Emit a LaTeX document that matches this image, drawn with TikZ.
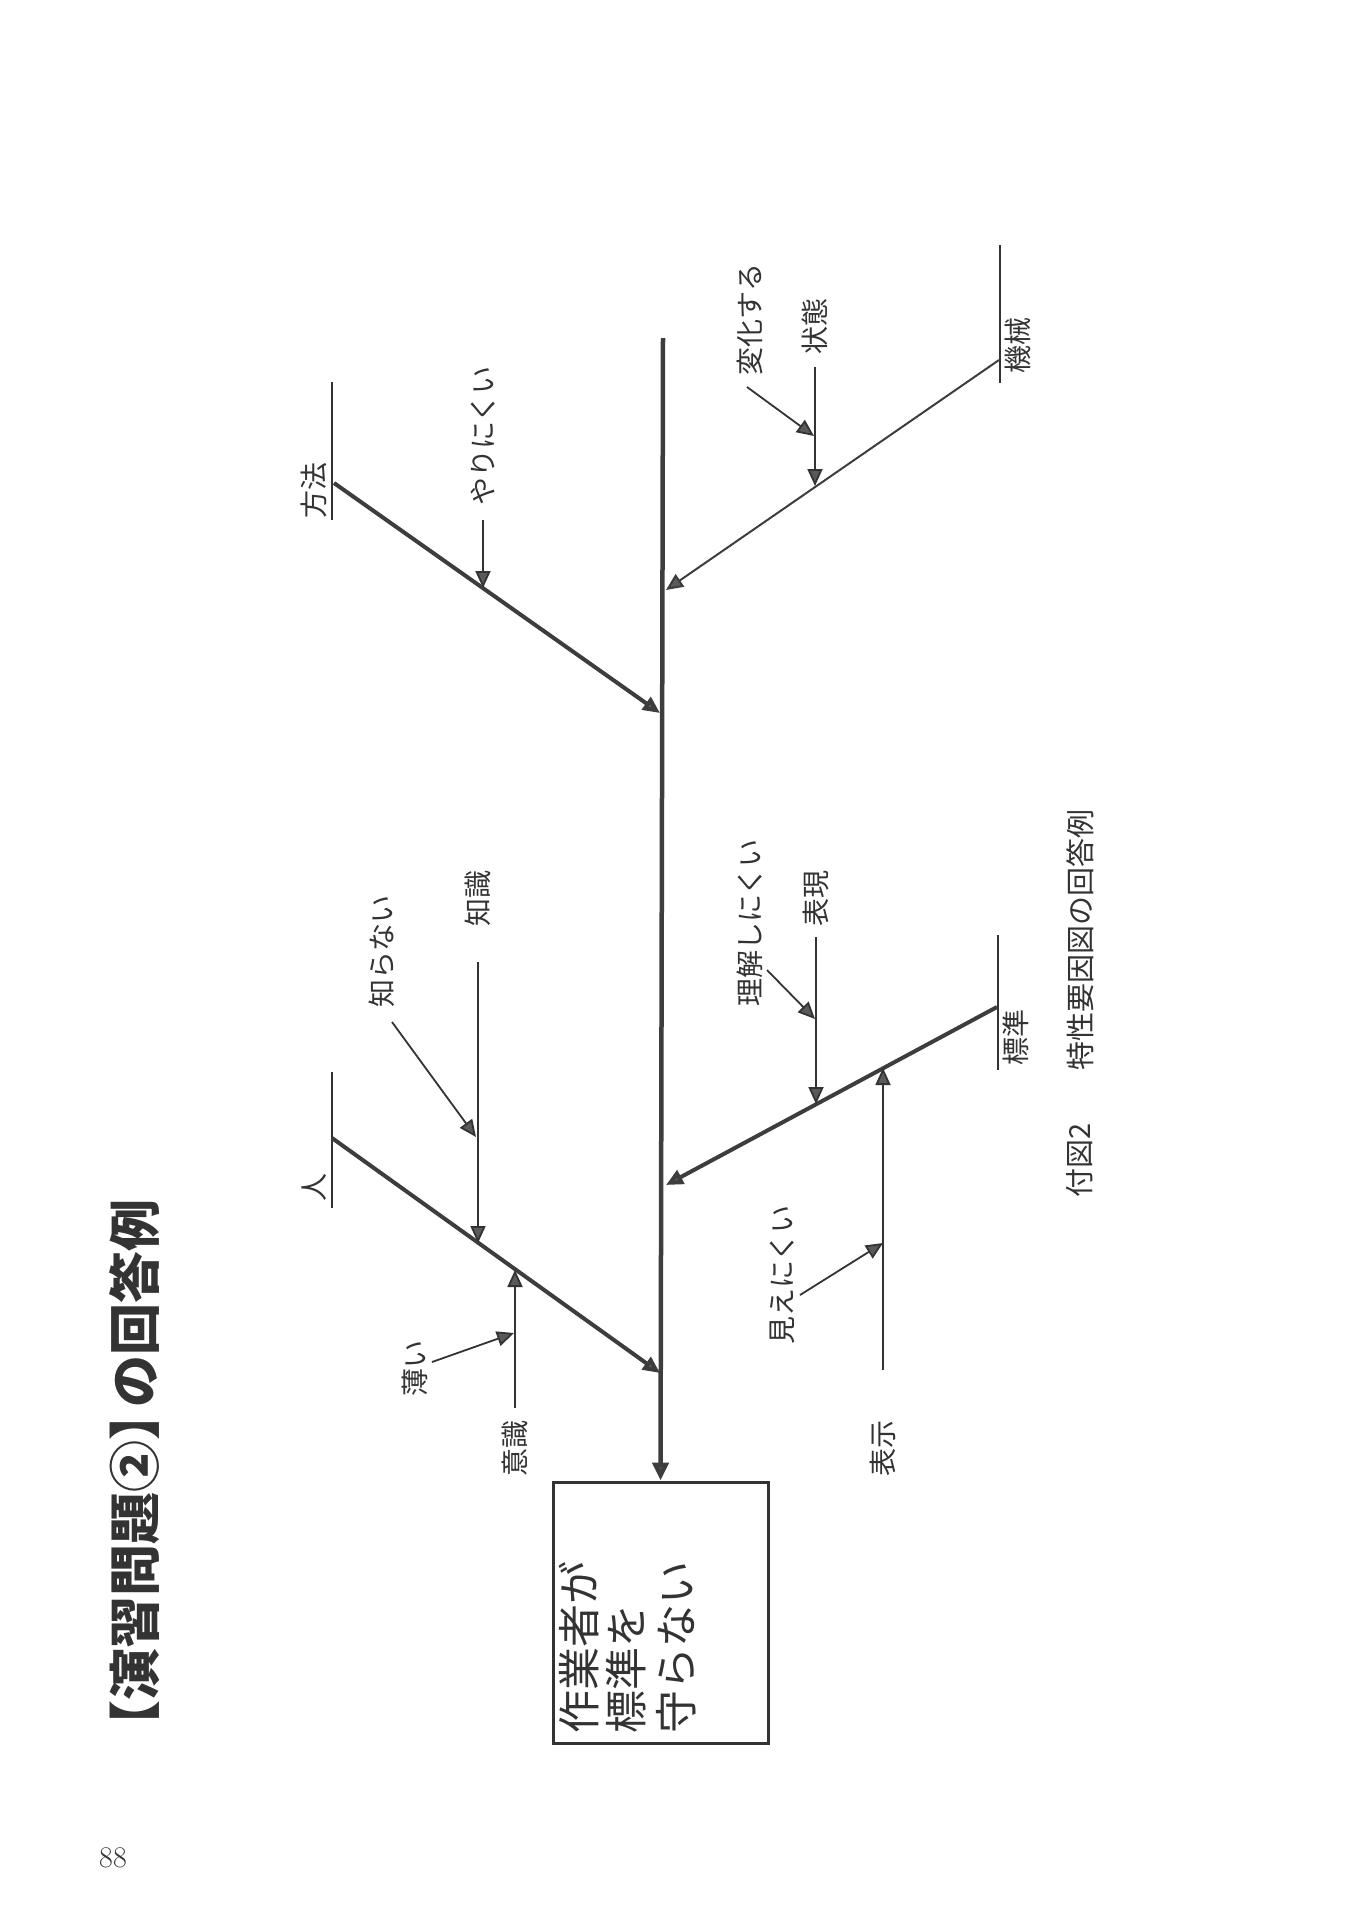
\documentclass[tikz,border=0pt]{standalone}
\usepackage{fontspec}
\newfontfamily\jp{Noto Sans CJK JP}
\usetikzlibrary{arrows.meta}
\definecolor{ink}{HTML}{333333}
\definecolor{bone}{HTML}{3d3d3d}
\definecolor{headgray}{HTML}{5a5a5a}
\tikzset{
  lbl/.style={font=\jp\fontsize{28}{30}\selectfont, rotate=90, inner sep=0pt, text=ink},
  boxtxt/.style={font=\jp\fontsize{43}{46}\selectfont, rotate=90, inner sep=0pt, anchor=west, text=ink},
  head/.style={-{Triangle[length=17pt,width=15pt,fill=headgray]}},
  spineline/.style={line width=4.5pt, draw=bone, -{Triangle[length=18pt,width=16pt,fill=headgray]}},
  bigbone/.style={line width=4pt, draw=bone, head},
  thinbone/.style={line width=2pt, draw=bone, head},
  subarrow/.style={line width=1.8pt, draw=ink, head},
  bar/.style={line width=2pt, draw=ink}
}
\begin{document}
\begin{tikzpicture}[x=1pt,y=-1pt]
\useasboundingbox (0,0) rectangle (1357,1920);

% heading and page number
\node[font=\jp\bfseries\fontsize{52}{56}\selectfont, rotate=90, inner sep=0pt, text=ink] (title) at (135,1476) {【演習問題②】\kern-0.35em の回答例};
\node[font=\fontsize{30}{30}\selectfont, inner sep=0pt, text=ink] (pageno) at (113,1858) {88};

% effect box
\node[draw=ink, line width=3pt, minimum width=215pt, minimum height=261pt, inner sep=0pt] (box) at (660.5,1612.5) {};
\node[boxtxt] (t1) at (579,1734) {作業者が};
\node[boxtxt] (t2) at (626,1734) {標準を};
\node[boxtxt] (t3) at (676,1734) {守らない};

% spine
\coordinate (spinetop) at (663,338);
\draw[spineline] (spinetop) -- (box.north);

% category bars and labels
\coordinate (hitoA) at (332,1072);   \coordinate (hitoB) at (332,1208);
\coordinate (hohoA) at (332,382);    \coordinate (hohoB) at (332,520);
\coordinate (kikaiA) at (1000,245);  \coordinate (kikaiB) at (1000,383);
\coordinate (hyojunA) at (998,935);  \coordinate (hyojunB) at (998,1070);
\draw[bar] (hitoA) -- (hitoB);
\draw[bar] (hohoA) -- (hohoB);
\draw[bar] (kikaiA) -- (kikaiB);
\draw[bar] (hyojunA) -- (hyojunB);
\node[lbl] (hito) at (314,1187) {人};
\node[lbl] (hoho) at (314,490) {方法};
\node[lbl] (kikai) at (1018,345) {機械};
\node[lbl] (hyojun) at (1016,1037) {標準};

% main bones
\coordinate (hitoS) at (332,1138);    \coordinate (hitoE) at (660,1373);
\coordinate (hohoS) at (334,483);     \coordinate (hohoE) at (660,713);
\coordinate (kikaiS) at (999,360);    \coordinate (kikaiE) at (666,590);
\coordinate (hyojunS) at (997,1007);  \coordinate (hyojunE) at (666,1185);
\draw[bigbone] (hitoS) -- (hitoE);
\draw[bigbone] (hohoS) -- (hohoE);
\draw[thinbone] (kikaiS) -- (kikaiE);
\draw[bigbone] (hyojunS) -- (hyojunE);

% 方法 side
\node[lbl] (yari) at (483,436) {やりにくい};
\coordinate (yariS) at (483,520); \coordinate (yariE) at (483,588);
\draw[subarrow] (yariS) -- (yariE);

% 人 side
\node[lbl] (chishiki) at (478,898) {知識};
\coordinate (chishikiS) at (478,962); \coordinate (chishikiE) at (478,1243);
\draw[subarrow] (chishikiS) -- (chishikiE);
\node[lbl] (shiranai) at (382,951) {知らない};
\coordinate (shiranaiS) at (392,1022); \coordinate (shiranaiE) at (476,1137);
\draw[subarrow] (shiranaiS) -- (shiranaiE);
\node[lbl] (ishiki) at (515,1448) {意識};
\coordinate (ishikiS) at (515,1408); \coordinate (ishikiE) at (515,1270);
\draw[subarrow] (ishikiS) -- (ishikiE);
\node[lbl] (usui) at (415,1368) {薄い};
\coordinate (usuiS) at (432,1362); \coordinate (usuiE) at (514,1333);
\draw[subarrow] (usuiS) -- (usuiE);

% 機械 side
\node[lbl] (jotai) at (815,326) {状態};
\coordinate (jotaiS) at (815,367); \coordinate (jotaiE) at (815,486);
\draw[subarrow] (jotaiS) -- (jotaiE);
\node[lbl] (henka) at (750,319) {変化する};
\coordinate (henkaS) at (747,387); \coordinate (henkaE) at (814,436);
\draw[subarrow] (henkaS) -- (henkaE);

% 標準 side
\node[lbl] (hyogen) at (816,898) {表現};
\coordinate (hyogenS) at (816,937); \coordinate (hyogenE) at (816,1104);
\draw[subarrow] (hyogenS) -- (hyogenE);
\node[lbl] (rikai) at (750,923) {理解しにくい};
\coordinate (rikaiS) at (767,970); \coordinate (rikaiE) at (815,1019);
\draw[subarrow] (rikaiS) -- (rikaiE);
\node[lbl] (hyoji) at (883,1448) {表示};
\coordinate (hyojiS) at (883,1370); \coordinate (hyojiE) at (883,1068);
\draw[subarrow] (hyojiS) -- (hyojiE);
\node[lbl] (mie) at (782,1275) {見えにくい};
\coordinate (mieS) at (800,1295); \coordinate (mieE) at (883,1243);
\draw[subarrow] (mieS) -- (mieE);

% caption
\node[font=\jp\fontsize{29}{30}\selectfont, rotate=90, inner sep=0pt, text=ink] (capnum) at (1080,1160) {付図2};
\node[font=\jp\fontsize{29}{30}\selectfont, rotate=90, inner sep=0pt, text=ink] (captext) at (1080,940) {特性要因図の回答例};
\end{tikzpicture}
\end{document}
